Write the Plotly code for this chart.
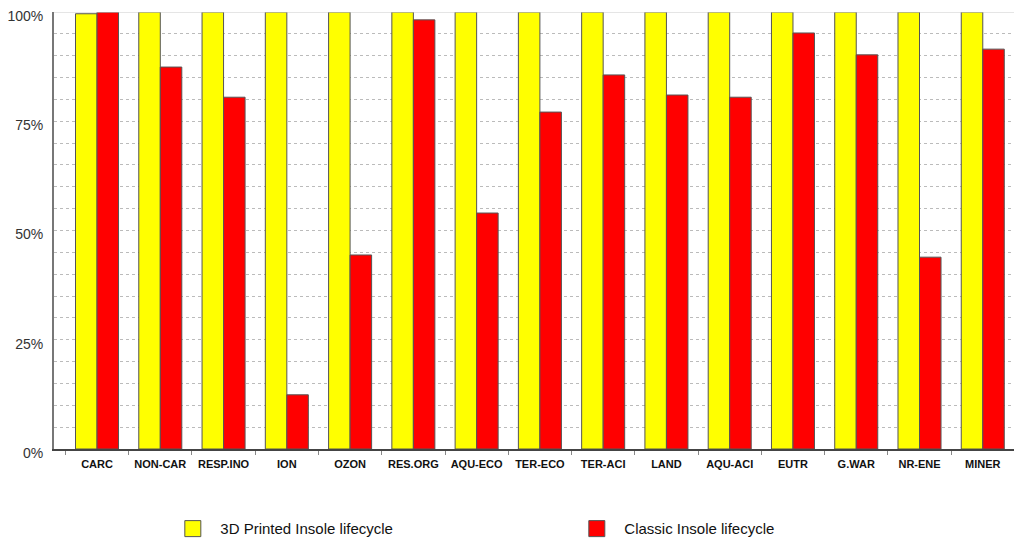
import plotly.graph_objects as go

categories = ["CARC", "NON-CAR", "RESP.INO", "ION", "OZON", "RES.ORG", "AQU-ECO", "TER-ECO",
              "TER-ACI", "LAND", "AQU-ACI", "EUTR", "G.WAR", "NR-ENE", "MINER"]
printed = [99.6, 100, 100, 100, 100, 100, 100, 100, 100, 100, 100, 100, 100, 100, 100]
classic = [100, 87.4, 80.5, 12.4, 44.4, 98.2, 54.0, 77.1, 85.6, 81.0, 80.5, 95.2, 90.2, 43.9, 91.5]
y_ticks = list(range(0, 101, 5))
y_labels = [f"{v}%" if v % 25 == 0 else "" for v in y_ticks]

fig = go.Figure()
outline = dict(color="#555555", width=1)
fig.add_trace(go.Bar(x=categories, y=printed, marker=dict(color="#FFFF00", line=outline),
                     showlegend=False))
fig.add_trace(go.Bar(x=categories, y=classic, marker=dict(color="#FF0000", line=outline),
                     showlegend=False))
# legend entries with large square swatches
fig.add_trace(go.Scatter(x=[None], y=[None], mode="markers", name="3D Printed Insole lifecycle",
                         marker=dict(symbol="square", size=20, color="#FFFF00",
                                     line=dict(color="#555555", width=1))))
fig.add_trace(go.Scatter(x=[None], y=[None], mode="markers", name="Classic Insole lifecycle",
                         marker=dict(symbol="square", size=20, color="#FF0000",
                                     line=dict(color="#555555", width=1))))

# page body has an 8px margin, so the figure is 8px smaller and margins shifted
fig.update_layout(
    width=1014, height=536,
    margin=dict(l=46, r=0, t=4, b=95, autoexpand=False),
    plot_bgcolor="white", paper_bgcolor="white",
    barmode="group", bargap=0.32, bargroupgap=0,
    font=dict(family="Liberation Sans, Arial", color="#333333"),
    legend=dict(orientation="h", x=0.115, xanchor="left", y=-0.145, yanchor="top",
                itemwidth=45, entrywidth=344, font=dict(size=15, color="#111111"),
                itemsizing="trace"),
)
fig.update_xaxes(range=[-0.68, 14.62], showline=True, linecolor="#444444", linewidth=2,
                 ticks="outside", tickson="boundaries", ticklen=4, tickcolor="#888888",
                 tickfont=dict(size=11, color="#111111",
                               family="Liberation Sans Narrow, Arial Narrow, Liberation Sans",
                               weight="bold"),
                 ticklabelstandoff=4, showgrid=False)
fig.update_yaxes(range=[0, 100], tickvals=y_ticks, ticktext=y_labels, showline=True,
                 linecolor="#777777", linewidth=2, showgrid=True, gridcolor="#BBBBBB",
                 griddash="dot", gridwidth=1, tickfont=dict(size=14, color="#333333"),
                 ticks="outside", ticklen=6, tickcolor="rgba(0,0,0,0)", zeroline=False,
                 ticklabeloverflow="allow", ticklabelshift=4)
fig.add_shape(type="line", xref="paper", yref="y", x0=0, x1=1, y0=100, y1=100,
              line=dict(color="#CCCCCC", width=1))

fig.write_html("out.html")
